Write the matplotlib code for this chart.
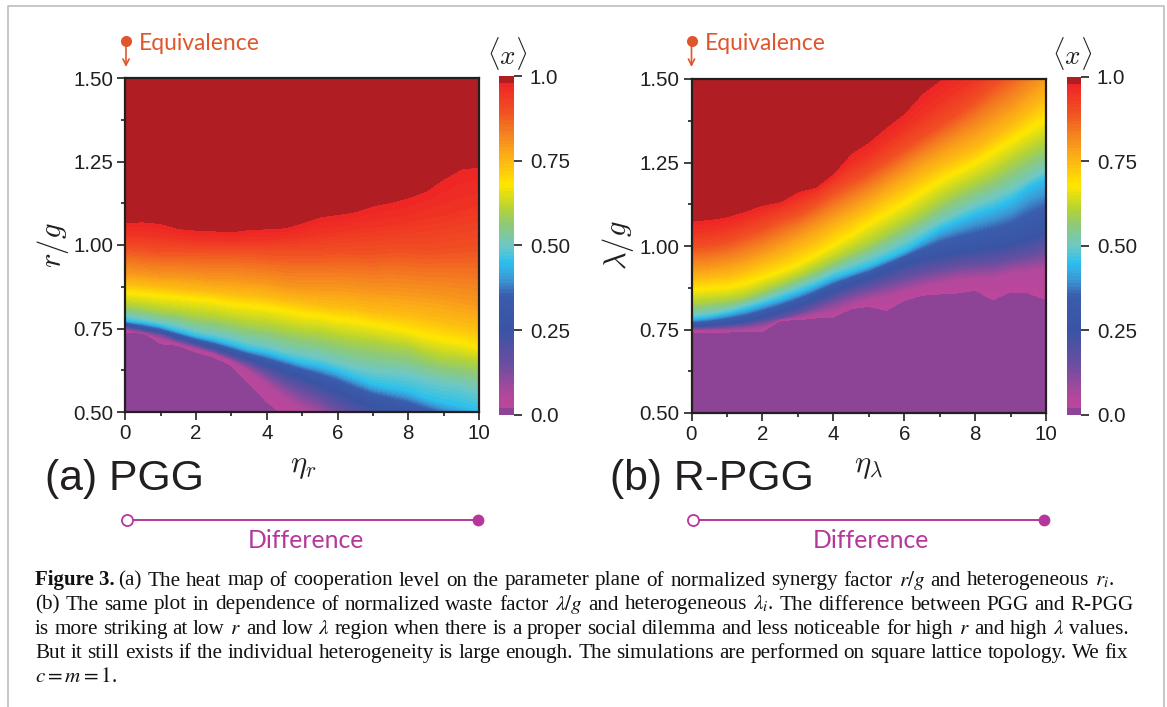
import numpy as np
import matplotlib
matplotlib.use("Agg")
import matplotlib.pyplot as plt
from matplotlib.colors import LinearSegmentedColormap

# iso-level positions, one row per level
etas = [0, 0.5, 1, 1.5, 2, 2.5, 3, 3.5, 4, 4.5, 5, 5.5, 6, 6.5, 7, 7.5, 8, 8.5, 9, 9.5, 10]
level_vals = [0.0, 0.02, 0.05, 0.15, 0.28, 0.45, 0.50, 0.60, 0.68, 0.74, 0.80, 0.90, 0.95, 0.98, 1.0]

a_00 = [0.2] * 21
a_02 = [.74, .74, .705, .70, .68, .665, .64, .587, .531, .49, .45, .41, .38, .36, .34, .32, .30, .29, .28, .27, .26]
a_05 = [.745, .735, .72, .705, .69, .675, .655, .625, .585, .545, .51, .485, .46, .43, .41, .385, .37, .35, .34, .33, .32]
a_15 = [.755, .745, .735, .715, .70, .685, .665, .645, .62, .59, .565, .54, .51, .48, .45, .43, .41, .40, .39, .38, .37]
a_28 = [.764, .752, .742, .727, .712, .697, .682, .665, .648, .632, .615, .597, .577, .555, .535, .52, .505, .49, .47, .455, .44]
a_45 = [.775, .77, .76, .745, .73, .72, .705, .69, .68, .665, .65, .64, .625, .605, .585, .575, .565, .545, .53, .52, .505]
a_50 = [.79, .78, .77, .76, .745, .735, .725, .71, .70, .685, .675, .665, .65, .635, .625, .62, .615, .60, .59, .58, .565]
a_60 = [.82, .815, .805, .80, .79, .785, .775, .765, .76, .75, .74, .735, .725, .715, .71, .70, .695, .675, .66, .655, .645]
a_68 = [.86, .855, .85, .845, .84, .835, .825, .82, .815, .805, .795, .79, .78, .775, .765, .755, .745, .73, .72, .71, .695]
a_74 = [.885, .88, .875, .87, .865, .86, .855, .85, .845, .835, .83, .82, .815, .81, .80, .795, .79, .78, .77, .76, .75]
a_80 = [.92, .915, .91, .91, .905, .90, .90, .895, .89, .88, .875, .875, .875, .87, .865, .865, .86, .855, .85, .84, .83]
a_90 = [.995, .99, .985, .985, .985, .985, .985, .985, .98, .98, .98, .98, .985, .985, .985, .99, .99, .985, .99, .995, 1.0]
a_95 = [1.03, 1.03, 1.025, 1.02, 1.015, 1.015, 1.01, 1.015, 1.015, 1.02, 1.025, 1.035, 1.04, 1.05, 1.055, 1.06, 1.07, 1.08, 1.09, 1.105, 1.12]
a_98 = [1.068, 1.07, 1.065, 1.05, 1.045, 1.043, 1.04, 1.047, 1.049, 1.052, 1.067, 1.085, 1.092, 1.10, 1.118, 1.128, 1.142, 1.162, 1.198, 1.228, 1.234]
a_top = [2.5] * 21

b_00 = [0.2] * 21
b_02 = [.743, .743, .743, .744, .745, .778, .78, .785, .788, .813, .82, .808, .838, .853, .857, .86, .868, .84, .863, .86, .84]
b_05 = [.748, .748, .748, .75, .755, .78, .785, .795, .805, .825, .84, .85, .865, .88, .89, .90, .905, .905, .92, .925, .93]
b_15 = [.755, .757, .76, .765, .775, .785, .80, .82, .84, .86, .875, .89, .905, .92, .93, .94, .945, .95, .96, .97, .985]
b_28 = [.763, .767, .773, .78, .793, .81, .829, .85, .874, .895, .913, .935, .958, .973, .985, .995, 1.0, 1.01, 1.02, 1.04, 1.06]
b_45 = [.784, .79, .80, .813, .829, .845, .863, .885, .908, .925, .943, .965, .988, 1.02, 1.053, 1.075, 1.098, 1.115, 1.138, 1.178, 1.203]
b_50 = [.795, .80, .81, .825, .84, .86, .88, .90, .925, .945, .965, .99, 1.015, 1.045, 1.075, 1.10, 1.125, 1.145, 1.17, 1.20, 1.23]
b_60 = [.83, .835, .84, .85, .87, .89, .91, .935, .96, .985, 1.01, 1.04, 1.07, 1.10, 1.135, 1.165, 1.19, 1.215, 1.25, 1.28, 1.31]
b_68 = [.871, .875, .878, .89, .908, .925, .948, .975, 1.005, 1.035, 1.07, 1.10, 1.13, 1.165, 1.198, 1.225, 1.252, 1.285, 1.317, 1.35, 1.383]
b_74 = [.90, .905, .91, .925, .945, .965, .99, 1.015, 1.05, 1.08, 1.11, 1.145, 1.175, 1.21, 1.24, 1.265, 1.29, 1.325, 1.36, 1.40, 1.44]
b_80 = [.935, .94, .95, .965, .985, 1.01, 1.035, 1.065, 1.095, 1.125, 1.155, 1.19, 1.225, 1.26, 1.29, 1.32, 1.35, 1.385, 1.42, 1.465, 1.51]
b_90 = [1.00, 1.005, 1.015, 1.035, 1.055, 1.08, 1.10, 1.13, 1.165, 1.195, 1.225, 1.26, 1.295, 1.33, 1.365, 1.40, 1.44, 1.485, 1.53, 1.575, 1.62]
b_95 = [1.04, 1.045, 1.055, 1.075, 1.095, 1.115, 1.14, 1.165, 1.20, 1.24, 1.27, 1.31, 1.35, 1.39, 1.43, 1.465, 1.50, 1.55, 1.61, 1.665, 1.72]
b_98 = [1.075, 1.08, 1.088, 1.105, 1.123, 1.133, 1.163, 1.177, 1.218, 1.278, 1.312, 1.357, 1.398, 1.457, 1.497, 1.53, 1.56, 1.63, 1.70, 1.82, 1.95]
b_top = [2.5] * 21

panel_a = [a_00, a_02, a_05, a_15, a_28, a_45, a_50, a_60, a_68, a_74, a_80, a_90, a_95, a_98, a_top]
panel_b = [b_00, b_02, b_05, b_15, b_28, b_45, b_50, b_60, b_68, b_74, b_80, b_90, b_95, b_98, b_top]

x_ticks = [0, 2, 4, 6, 8, 10]
y_ticks = [0.5, 0.75, 1.0, 1.25, 1.5]
y_labels = ["0.50", "0.75", "1.00", "1.25", "1.50"]
cb_ticks = [0, 0.25, 0.5, 0.75, 1.0]
cb_labels = ["0.0", "0.25", "0.50", "0.75", "1.0"]

caption = [
    r"(a) The heat map of cooperation level on the parameter plane of normalized synergy factor $r/g$ and heterogeneous $r_i$.",
    r"(b) The same plot in dependence of normalized waste factor $\lambda/g$ and heterogeneous $\lambda_i$. The difference between PGG and R-PGG",
    r"is more striking at low $r$ and low $\lambda$ region when there is a proper social dilemma and less noticeable for high $r$ and high $\lambda$ values.",
    r"But it still exists if the individual heterogeneity is large enough. The simulations are performed on square lattice topology. We fix",
    r"$c=m=1$.",
]
cap_left = [118, 35, 35, 35, 35]
cap_right = [1114, 1134, 1129, 1128, None]
cap_y = [585.5, 609.5, 634, 658, 682]

W, H = 1167, 707
ORANGE = "#E0562C"
MAGENTA = "#B5379C"
DARK = "#231F20"

plt.rcParams["font.family"] = ["Liberation Sans", "DejaVu Sans"]

nodes = [
    (0.0, "#8E4496"), (0.019, "#8E4496"), (0.021, "#BB479B"), (0.06, "#B0489C"),
    (0.15, "#6A4EA0"), (0.25, "#3A54A4"), (0.35, "#3A5CAC"), (0.40, "#3C97D4"),
    (0.45, "#2BC0EE"), (0.50, "#6FC8C4"), (0.56, "#8CC97A"), (0.61, "#B5D334"),
    (0.68, "#FFE600"), (0.75, "#FDB813"), (0.82, "#F58A1F"), (0.90, "#F04E23"),
    (0.979, "#EE2524"), (0.981, "#B01E24"), (1.0, "#B01E24"),
]
cmap = LinearSegmentedColormap.from_list("rainbow_x", nodes, N=512)
levels = np.linspace(0, 1, 101)


def px_axes(fig, left, top, right, bottom):
    return fig.add_axes([left / W, 1 - bottom / H, (right - left) / W, (bottom - top) / H])


def heat(fig, rows, box, cbox):
    ax = px_axes(fig, *box)
    X = np.tile(etas, (len(level_vals), 1))
    Y = np.array(rows)
    Z = np.tile(np.array(level_vals)[:, None], (1, len(etas)))
    cs = ax.contourf(X, Y, Z, levels=levels, cmap=cmap, vmin=0, vmax=1)
    cs.set_edgecolor("face")
    cs.set_linewidth(0.3)
    ax.set_xlim(0, 10)
    ax.set_ylim(0.5, 1.5)
    ax.set_xticks(x_ticks)
    ax.set_xticks([1, 3, 5, 7, 9], minor=True)
    ax.set_yticks(y_ticks, y_labels)
    ax.set_yticks([0.625, 0.875, 1.125, 1.375], minor=True)
    ax.tick_params(which="major", length=6, width=1.2, labelsize=14.8, pad=2.5, colors=DARK)
    ax.tick_params(which="minor", length=3, width=1.2, colors=DARK)
    for s in ax.spines.values():
        s.set_linewidth(1.6)
        s.set_color(DARK)
    ax.set_axisbelow(False)

    cax = px_axes(fig, *cbox)
    cb = fig.colorbar(cs, cax=cax)
    cb.outline.set_visible(False)
    cb.set_ticks(cb_ticks, labels=cb_labels)
    cb.ax.minorticks_off()
    cb.ax.tick_params(length=6, width=1.2, labelsize=14.8, pad=5.5, colors=DARK)
    return ax


def caption_line(ov, renderer, line, y, left, right):
    # spread the words so the line ends where the printed one does
    style = dict(family="Liberation Serif", math_fontfamily="stix", fontsize=15.2, color="#111111")
    items = [ov.text(left, y, w, **style) for w in line.split(" ")]
    if right is None:
        return
    scale = W / fig.get_window_extent().width
    widths = [t.get_window_extent(renderer).width * scale for t in items]
    gap = (right - left - sum(widths)) / (len(items) - 1)
    x = left
    for t, w in zip(items, widths):
        t.set_x(x)
        x += w + gap


fig = plt.figure(figsize=(W / 100, H / 100), dpi=100)
heat(fig, panel_a, (125.4, 78, 479, 412), (499.4, 76.5, 514, 414.5))
heat(fig, panel_b, (691.5, 79, 1046, 413), (1066.5, 77, 1081, 415))

# overlay in pixel coordinates for labels and annotations
ov = fig.add_axes([0, 0, 1, 1], zorder=5)
ov.set_xlim(0, W)
ov.set_ylim(H, 0)
ov.axis("off")
ov.patch.set_alpha(0)

# page frame
ov.plot([7.5, 7.5, 1164, 1164], [H, 5.5, 5.5, H], color="#BDBDBD", lw=1.2)

for dx, panel, xlab, ylab, ylx in [
    (0, "(a) PGG", r"$\eta_r$", r"$r/g$", 53),
    (565.5, "(b) R-PGG", r"$\eta_\lambda$", r"$\lambda/g$", 52),
]:
    ov.plot(126 + dx, 41, "o", color=ORANGE, ms=8, mec="none")
    ov.annotate("", xy=(126 + dx, 67), xytext=(126 + dx, 47),
                arrowprops=dict(arrowstyle="->", color=ORANGE, lw=1.2, mutation_scale=11, shrinkA=0, shrinkB=0))
    ov.text(139 + dx, 43, "Equivalence", color=ORANGE, fontsize=16.5, family="Lato", va="center", ha="left")
    ov.text(45 + dx, 490, panel, color=DARK, fontsize=30.8, va="baseline", ha="left")
    ov.text(303 + dx, 472, xlab, color=DARK, fontsize=22, math_fontfamily="cm", ha="center", va="baseline")
    ov.text(ylx + dx, 245, ylab, color=DARK, fontsize=22, math_fontfamily="cm", rotation=90, ha="center", va="center")
    ov.text(507 + dx, 53, r"$\langle x\rangle$", color=DARK, fontsize=19.5, math_fontfamily="cm", ha="center", va="center")
    ov.plot([127 + dx, 478 + dx], [520, 520], color=MAGENTA, lw=1.4)
    ov.plot(127 + dx, 520, "o", mfc="white", mec=MAGENTA, mew=1.3, ms=8)
    ov.plot(478 + dx, 520, "o", color=MAGENTA, ms=8.5, mec="none")
    ov.text(305.5 + dx, 541, "Difference", color=MAGENTA, fontsize=17.8, family="Lato", ha="center", va="center")

# caption
ov.text(35, cap_y[0], "Figure 3.", family="Liberation Serif", fontweight="bold", fontsize=15, color="#111111")
renderer = fig.canvas.get_renderer()
for i, line in enumerate(caption):
    caption_line(ov, renderer, line, cap_y[i], cap_left[i], cap_right[i])

fig.savefig("out.png", dpi=100, facecolor="white")
